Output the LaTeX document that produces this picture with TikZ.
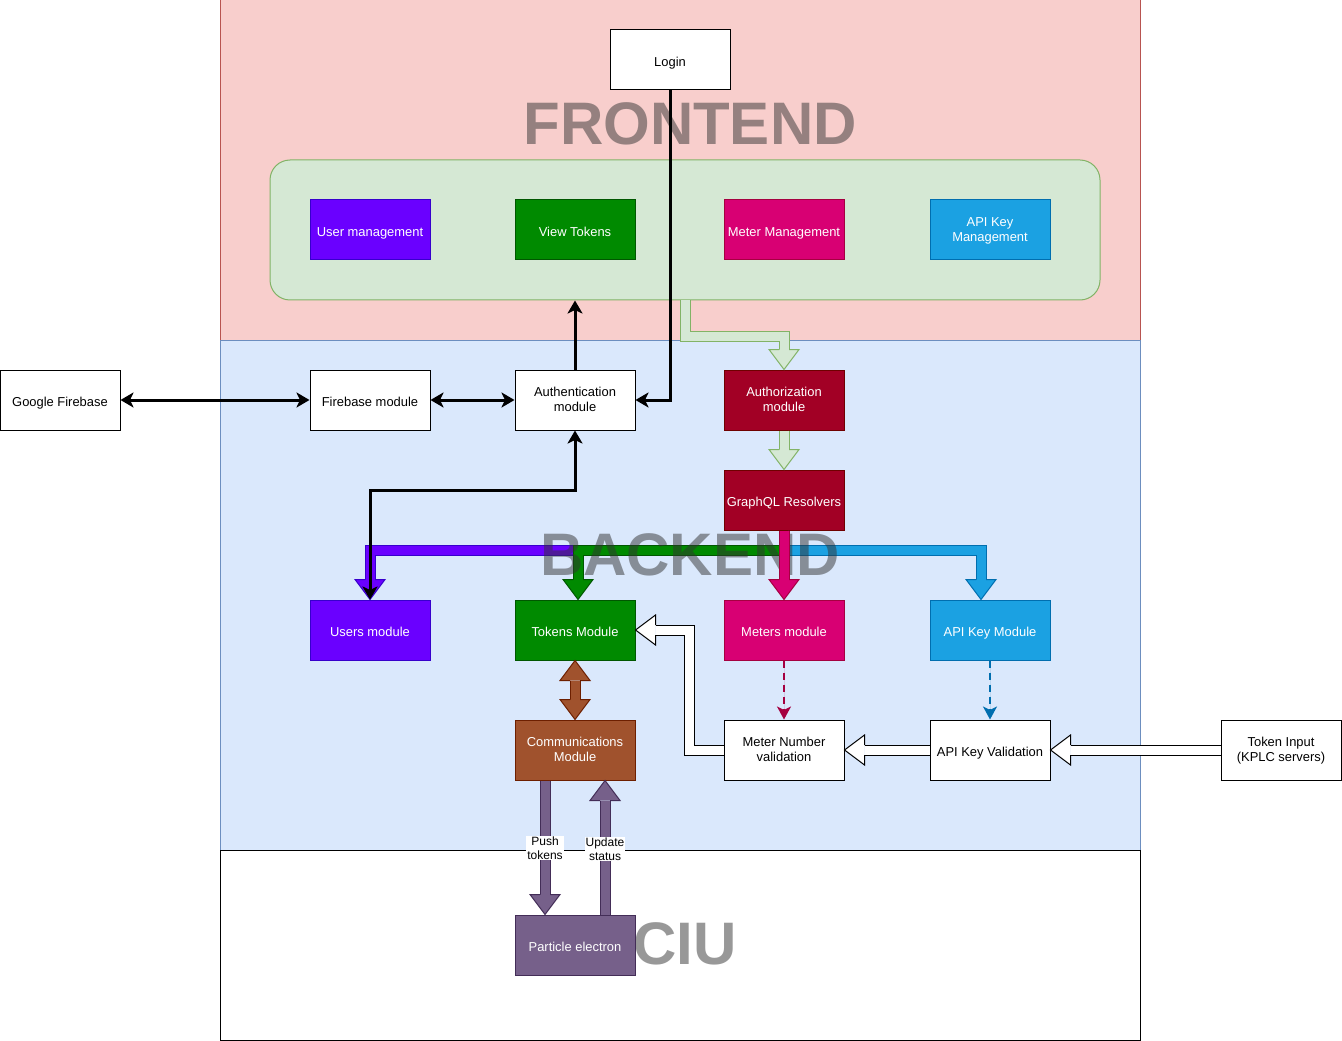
\documentclass[tikz,border=0pt]{standalone}
\usepackage{fontspec}
\setmainfont{Liberation Sans}
\usetikzlibrary{arrows.meta,calc}
\definecolor{frfill}{HTML}{F8CECC}\definecolor{frdraw}{HTML}{B85450}
\definecolor{bkfill}{HTML}{DAE8FC}\definecolor{bkdraw}{HTML}{6C8EBF}
\definecolor{lgfill}{HTML}{D5E8D4}\definecolor{lgdraw}{HTML}{82B366}
\definecolor{pufill}{HTML}{6A00FF}\definecolor{pudraw}{HTML}{3700CC}
\definecolor{gnfill}{HTML}{008A00}\definecolor{gndraw}{HTML}{005700}
\definecolor{mgfill}{HTML}{D80073}\definecolor{mgdraw}{HTML}{A50040}
\definecolor{blfill}{HTML}{1BA1E2}\definecolor{bldraw}{HTML}{006EAF}
\definecolor{rdfill}{HTML}{A20025}\definecolor{rddraw}{HTML}{6F0000}
\definecolor{brfill}{HTML}{A0522D}\definecolor{brdraw}{HTML}{6D1F00}
\definecolor{vifill}{HTML}{76608A}\definecolor{vidraw}{HTML}{432D57}
\definecolor{bigtxt}{HTML}{333333}
\newcommand\fhead[3]{\begin{scope}[shift={#1},rotate=#2]\filldraw[#3,line width=0.75pt,line join=miter] (-20,-5) -- (-20,-15) -- (0,0) -- (-20,15) -- (-20,5);\end{scope}}
\newcommand\twoline[2]{\raisebox{-3pt}{\begin{tabular}{@{}c@{}}#1\\#2\end{tabular}}}
\tikzset{
  box/.style={draw=black,fill=white,line width=0.75pt,minimum width=90pt,minimum height=45pt,inner sep=0pt,align=center,font=\fontsize{9.7}{11.6}\selectfont,
    execute at begin node={\rule{0pt}{1.3em}},execute at end node={\rule[-0.3em]{0pt}{0.3em}}},
  cbox/.style n args={2}{box,fill=#1,draw=#2,text=white},
  region/.style n args={2}{fill=#1,draw=#2,line width=0.75pt},
  bigtitle/.style={font=\fontsize{45}{50}\selectfont\bfseries,text=bigtxt,text opacity=0.5,inner sep=0pt},
  fb/.style n args={2}{draw=#1,double=#2,line width=0.75pt,double distance=6.75pt,line join=miter},
  hd/.style n args={2}{draw=#1,fill=#2},
  blk/.style={line width=2.25pt,draw=black},
  tipA/.style={-{Stealth[length=9.75pt,width=11.25pt,inset=2.6pt]}},
  tipB/.style={{Stealth[length=9.75pt,width=11.25pt,inset=2.6pt]}-{Stealth[length=9.75pt,width=11.25pt,inset=2.6pt]}},
  dsh/.style={line width=1.5pt,dash pattern=on 5.5pt off 3.5pt,-{Stealth[length=9.75pt,width=10.5pt,inset=2.6pt]}},
  lbl/.style={fill=white,inner sep=0.8pt,align=center,font=\fontsize{9}{10.5}\selectfont}
}
\begin{document}
\begin{tikzpicture}[x=0.75pt,y=-0.75pt]
\useasboundingbox (0,0) rectangle (1342,1041);
% regions
\path[region={frfill}{frdraw}] (220,0) rectangle (1140,340);
\path[region={bkfill}{bkdraw}] (220,340) rectangle (1140,850);
\path[region={white}{black}] (220,850) rectangle (1140,1040);
\node[bigtitle] (tfront) at (690,124) {FRONTEND};
\node[bigtitle] (tciu) at (685,944) {CIU};
% green container
\node[draw=lgdraw,fill=lgfill,line width=0.75pt,rounded corners=15pt,minimum width=622.5pt,minimum height=105pt,inner sep=0pt] (greenbox) at (685,230) {};
% nodes
\node[box] (login) at (670,60) {Login};
\node[cbox={pufill}{pudraw}] (um) at (370,230) {User management};
\node[cbox={gnfill}{gndraw}] (vt) at (575,230) {View Tokens};
\node[cbox={mgfill}{mgdraw}] (mm) at (784,230) {Meter Management};
\node[cbox={blfill}{bldraw}] (akm) at (990,230) {\twoline{API Key}{Management}};
\node[box] (gfb) at (60,400) {Google Firebase};
\node[box] (fbm) at (370,400) {Firebase module};
\node[box] (auth) at (575,400) {\twoline{Authentication}{module}};
\node[cbox={rdfill}{rddraw}] (authz) at (784,400) {\twoline{Authorization}{module}};
\node[cbox={rdfill}{rddraw}] (gql) at (784,500) {GraphQL Resolvers};
\node[cbox={pufill}{pudraw}] (users) at (370,630) {Users module};
\node[cbox={gnfill}{gndraw}] (tokens) at (575,630) {Tokens Module};
\node[cbox={mgfill}{mgdraw}] (meters) at (784,630) {Meters module};
\node[cbox={blfill}{bldraw}] (apikey) at (990,630) {API Key Module};
\node[cbox={brfill}{brdraw}] (comm) at (575,750) {\twoline{Communications}{Module}};
\node[box] (mnv) at (784,750) {\twoline{Meter Number}{validation}};
\node[box] (akv) at (990,750) {API Key Validation};
\node[box] (tin) at (1281,750) {\twoline{Token Input}{(KPLC servers)}};
\node[cbox={vifill}{vidraw}] (pe) at (575,945) {Particle electron};
% fat arrows from GraphQL
\draw[fb={pudraw}{pufill}] (gql.south) -- ++(0,20) -| ($(users.north)+(0,-20)$);
\fhead{(users.north)}{-90}{hd={pudraw}{pufill}}
\draw[fb={gndraw}{gnfill}] (gql.south) -- ++(0,20) -| ($(tokens.north)+(3,-20)$);
\fhead{($(tokens.north)+(3,0)$)}{-90}{hd={gndraw}{gnfill}}
\draw[fb={bldraw}{blfill}] (gql.south) -- ++(0,20) -| ($(apikey.north)+(-9,-20)$);
\fhead{($(apikey.north)+(-9,0)$)}{-90}{hd={bldraw}{blfill}}
\node[bigtitle] (tback) at (690,555) {BACKEND};
\draw[fb={mgdraw}{mgfill}] (gql.south) -- ($(meters.north)+(0,-20)$);
\fhead{(meters.north)}{-90}{hd={mgdraw}{mgfill}}
% light green arrows
\draw[fb={lgdraw}{lgfill}] (greenbox.south) -- ++(0,36) -| ($(authz.north)+(0,-20)$);
\fhead{(authz.north)}{-90}{hd={lgdraw}{lgfill}}
\draw[fb={lgdraw}{lgfill}] (authz.south) -- ($(gql.north)+(0,-20)$);
\fhead{(gql.north)}{-90}{hd={lgdraw}{lgfill}}
% brown double arrow
\draw[fb={brdraw}{brfill}] ($(tokens.south)+(0,20)$) -- ($(comm.north)+(0,-20)$);
\fhead{(tokens.south)}{90}{hd={brdraw}{brfill}}
\fhead{(comm.north)}{-90}{hd={brdraw}{brfill}}
% CIU arrows
\draw[fb={vidraw}{vifill}] ($(comm.south)+(-30,0)$) -- ($(pe.north)+(-30,-20)$);
\fhead{($(pe.north)+(-30,0)$)}{-90}{hd={vidraw}{vifill}}
\draw[fb={vidraw}{vifill}] ($(pe.north)+(30,0)$) -- ($(comm.south)+(30,20)$);
\fhead{($(comm.south)+(30,0)$)}{90}{hd={vidraw}{vifill}}
\node[lbl] (lpush) at (545,848) {Push\\tokens};
\node[lbl] (lupd) at (605,849) {Update\\status};
% hollow arrows
\draw[fb={black}{white}] (mnv.west) -- ++(-34,0) |- ($(tokens.east)+(20,0)$);
\fhead{(tokens.east)}{180}{hd={black}{white}}
\draw[fb={black}{white}] (akv.west) -- ($(mnv.east)+(20,0)$);
\fhead{(mnv.east)}{180}{hd={black}{white}}
\draw[fb={black}{white}] (tin.west) -- ($(akv.east)+(20,0)$);
\fhead{(akv.east)}{180}{hd={black}{white}}
% dashed
\draw[dsh,draw=mgdraw,fill=mgdraw] (meters.south) -- (mnv.north);
\draw[dsh,draw=bldraw,fill=bldraw] (apikey.south) -- (akv.north);
% black connectors
\draw[blk,tipA] (login.south) |- (auth.east);
\draw[blk,tipA] (auth.north) -- (auth.north |- greenbox.south);
\draw[blk,tipB] (gfb.east) -- (fbm.west);
\draw[blk,tipB] (fbm.east) -- (auth.west);
\draw[blk,tipB] (auth.south) -- ++(0,60) -| (users.north);
\end{tikzpicture}
\end{document}
